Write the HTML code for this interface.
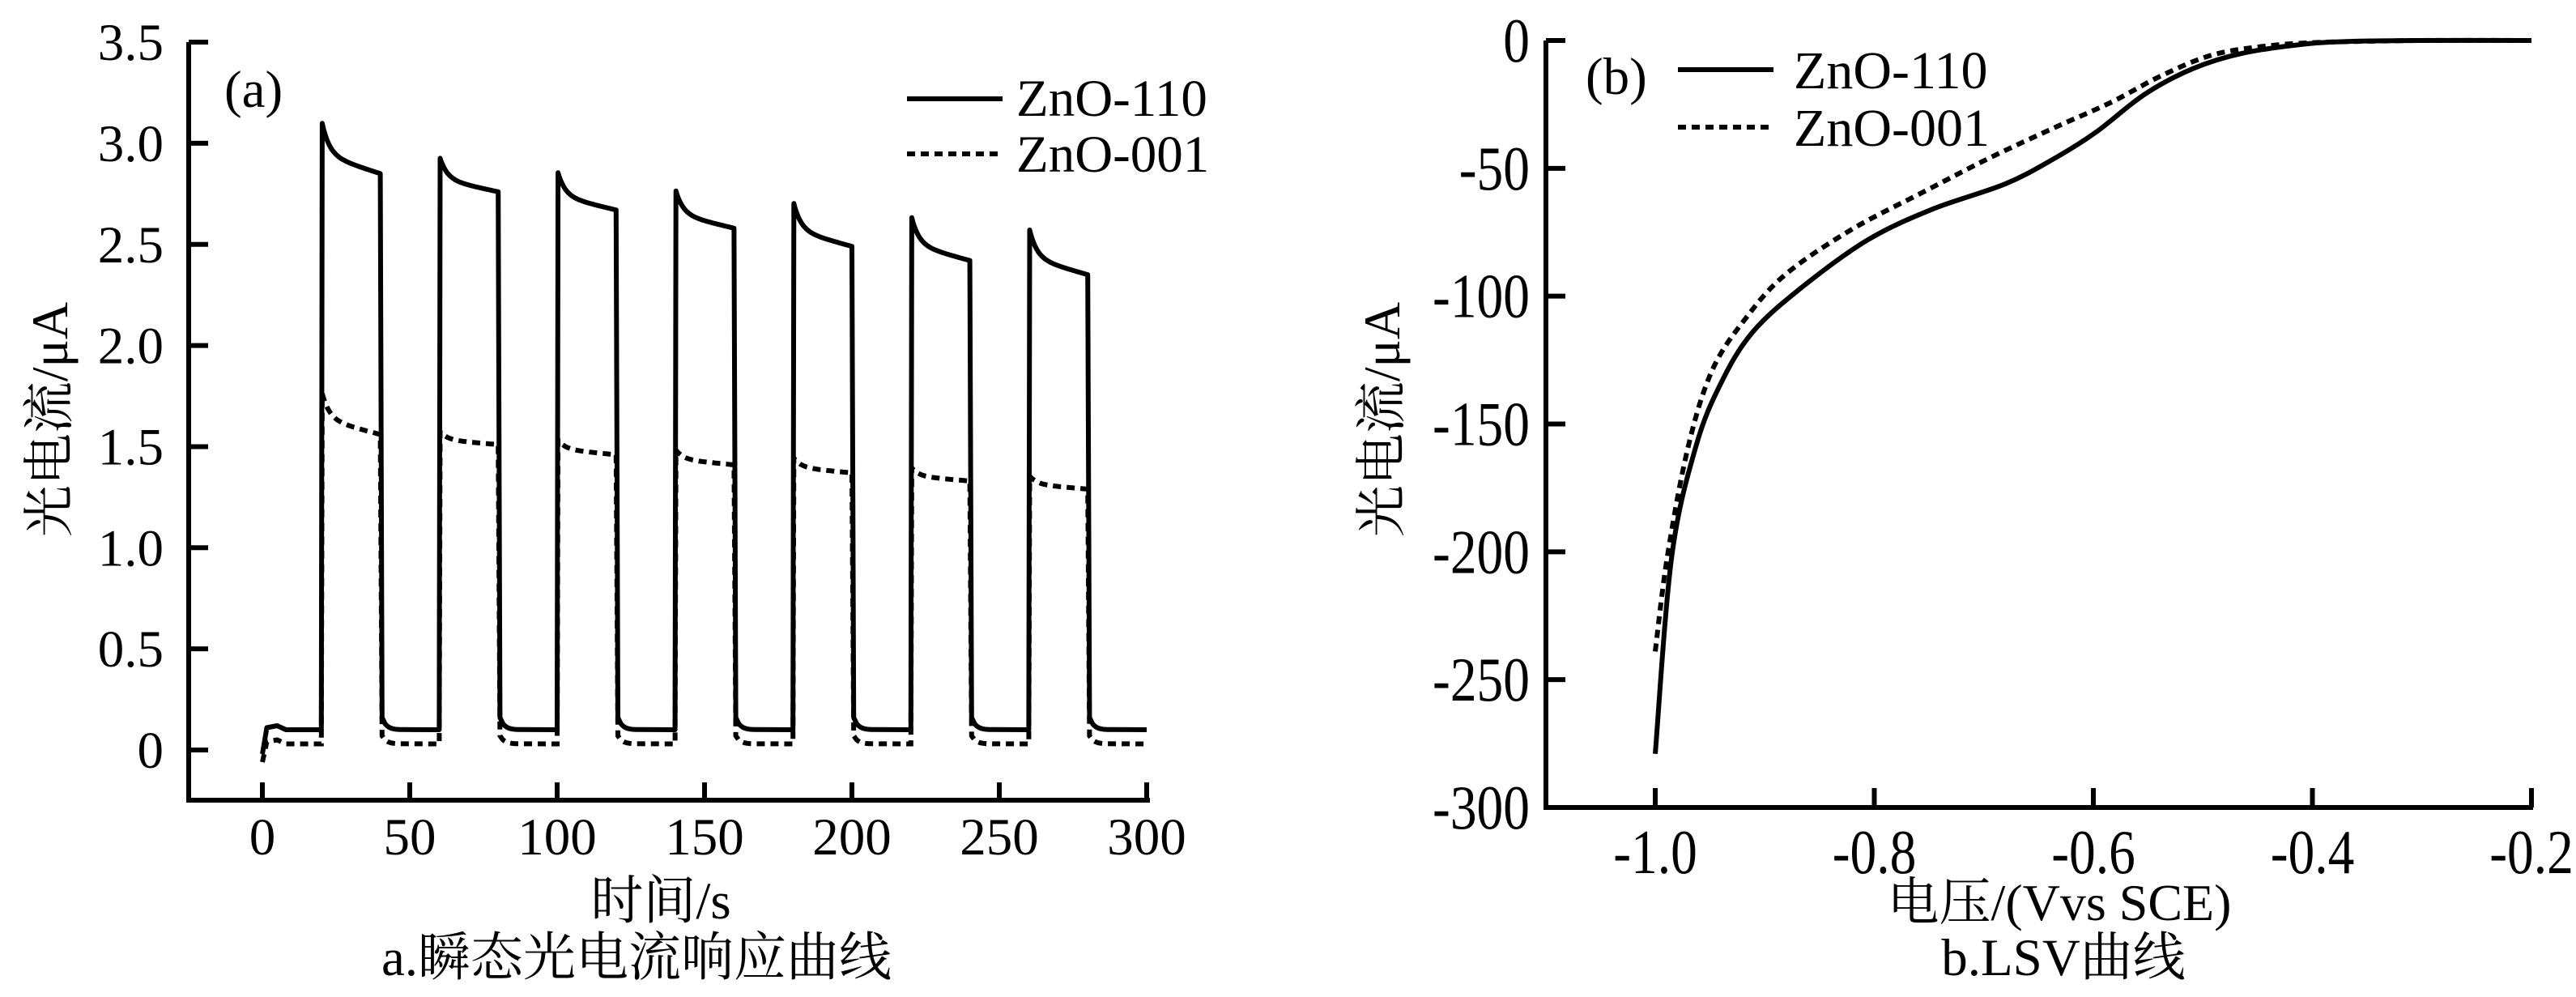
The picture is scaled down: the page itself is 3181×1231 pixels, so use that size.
<!DOCTYPE html>
<html><head><meta charset="utf-8"><style>
html,body{margin:0;padding:0;background:#fff;}
svg{display:block;}
text{font-family:"Liberation Serif","Noto Serif CJK SC","Noto Sans CJK SC",serif;fill:#000;}
</style></head><body>
<svg id="chart" width="3181" height="1231" viewBox="0 0 3181 1231" xmlns="http://www.w3.org/2000/svg">
<g id="pa"></g>
<g id="pb"></g>
</svg>
<script>
// Panel a data
const onTimesA = [20, 60, 100, 140, 180, 220, 260];
const peak110 = [3.12, 2.94, 2.87, 2.78, 2.72, 2.65, 2.59];
const end110 = [2.85, 2.76, 2.67, 2.58, 2.49, 2.42, 2.35];
const peak001 = [1.78, 1.58, 1.54, 1.49, 1.45, 1.40, 1.36];
const end001 = [1.56, 1.51, 1.46, 1.41, 1.37, 1.33, 1.29];
const base110 = 0.10;
const base001 = 0.03;
const xTicksA = [0, 50, 100, 150, 200, 250, 300];
const yTicksA = [0, 0.5, 1.0, 1.5, 2.0, 2.5, 3.0, 3.5];
const yTickLabelsA = ["0", "0.5", "1.0", "1.5", "2.0", "2.5", "3.0", "3.5"];
// Panel b data
const v110 = [-1.0, -0.985, -0.963, -0.94, -0.911, -0.866, -0.806, -0.747, -0.68, -0.635, -0.598, -0.553, -0.509, -0.464, -0.405, -0.36, -0.3, -0.2];
const i110 = [-279, -202, -159, -134, -114, -96.5, -78, -66, -56, -46, -36, -21, -11, -5, -1.3, -0.3, 0, 0];
const v001 = [-1.0, -0.989, -0.97, -0.948, -0.918, -0.881, -0.821, -0.754, -0.695, -0.635, -0.583, -0.539, -0.494, -0.449, -0.397, -0.3, -0.2];
const i001 = [-239, -202, -159, -129, -109, -91.5, -74, -59, -46, -34, -24, -14, -6, -2.5, -0.8, 0, 0];
const xTicksB = [-1.0, -0.8, -0.6, -0.4, -0.2];
const xTickLabelsB = ["-1.0", "-0.8", "-0.6", "-0.4", "-0.2"];
const yTicksB = [0, -50, -100, -150, -200, -250, -300];

const NS = "http://www.w3.org/2000/svg";
function mk(parent, tag, attrs, txt) {
  const e = document.createElementNS(NS, tag);
  for (const k in attrs) e.setAttribute(k, attrs[k]);
  if (txt !== undefined) e.textContent = txt;
  parent.appendChild(e);
  return e;
}
const pa = document.getElementById('pa');
const pb = document.getElementById('pb');
const SW = 6;

// ---------- Panel a ----------
const axA = {x0: 233, x1: 1420, yb: 988};
const xA = t => 324 + (t - 0) * (1416 - 324) / 300;
const yA = v => 926 - v * 249.7;
let e;
e = mk(pa, 'path', {d: `M${axA.x0} ${yA(3.5)} V${axA.yb} H${axA.x1}`, fill: 'none', stroke: '#000', 'stroke-width': SW, 'stroke-linejoin': 'miter'});


yTicksA.forEach((v, i) => {
  const t = mk(pa, 'line', {x1: axA.x0, x2: axA.x0 + 24, y1: yA(v), y2: yA(v), stroke: '#000', 'stroke-width': SW});
  
  
  const l = mk(pa, 'text', {x: 202, y: yA(v) + 22, 'text-anchor': 'end', 'font-size': 65}, yTickLabelsA[i]);
  
  
});
xTicksA.forEach(v => {
  const t = mk(pa, 'line', {x1: xA(v), x2: xA(v), y1: axA.yb, y2: axA.yb - 22, stroke: '#000', 'stroke-width': SW});
  
  
  const l = mk(pa, 'text', {x: xA(v), y: 1055, 'text-anchor': 'middle', 'font-size': 65}, String(v));
  
  
});
function seriesA(peaks, ends, base, start, overshoot) {
  const pts = [[0, start], [1.5, base + 0.01], [5, base + 0.02], [8, base], [onTimesA[0] - 0.2, base]];
  onTimesA.forEach((on, i) => {
    pts.push([on, base]);
    for (let dt = 0.3; dt <= 20; dt += 0.4) {
      const f = 0.65 * Math.exp(-dt / 2.5) + 0.35 * (1 - dt / 20);
      pts.push([on + dt, ends[i] + (peaks[i] - ends[i]) * f]);
    }
    pts.push([on + 20, ends[i]]);
    pts.push([on + 20.6, base + overshoot]);
    for (let dt = 1; dt <= 6; dt += 0.5) pts.push([on + 20.6 + dt, base + overshoot * Math.exp(-dt / 1.5)]);
    const next = i + 1 < onTimesA.length ? onTimesA[i + 1] : 300;
    pts.push([next, base]);
  });
  return pts.map((p, k) => (k ? 'L' : 'M') + xA(p[0]).toFixed(1) + ' ' + yA(p[1]).toFixed(1)).join(' ');
}
e = mk(pa, 'path', {d: seriesA(peak110, end110, base110, -0.02, 0.06), fill: 'none', stroke: '#000', 'stroke-width': SW, 'stroke-linejoin': 'round'});


e = mk(pa, 'path', {d: seriesA(peak001, end001, base001, -0.06, 0.04), fill: 'none', stroke: '#000', 'stroke-width': SW, 'stroke-dasharray': '10 7'});


e = mk(pa, 'text', {x: 277, y: 132, 'font-size': 65}, '(a)');


e = mk(pa, 'line', {x1: 1120, x2: 1238, y1: 122, y2: 122, stroke: '#000', 'stroke-width': SW});


e = mk(pa, 'line', {x1: 1120, x2: 1238, y1: 190, y2: 190, stroke: '#000', 'stroke-width': SW, 'stroke-dasharray': '10 7'});


e = mk(pa, 'text', {x: 1255, y: 143, 'font-size': 65}, 'ZnO-110');


e = mk(pa, 'text', {x: 1255, y: 212, 'font-size': 65}, 'ZnO-001');


e = mk(pa, 'text', {x: 0, y: 0, 'font-size': 64, 'text-anchor': 'middle', transform: 'translate(83 518) rotate(-90)'}, '光电流/μA');


e = mk(pa, 'text', {x: 816, y: 1134, 'font-size': 65, 'text-anchor': 'middle'}, '时间/s');


e = mk(pa, 'text', {x: 786, y: 1204, 'font-size': 65, 'text-anchor': 'middle'}, 'a.瞬态光电流响应曲线');



// ---------- Panel b ----------
const axB = {x0: 1909, x1: 3128, yt: 50, yb: 997};
const xB = v => 2044 + (v + 1.0) * (3126 - 2044) / 0.8;
const yB = v => 50 + (-v) * (997 - 50) / 300;
e = mk(pb, 'path', {d: `M${axB.x0} ${axB.yt} V${axB.yb} H${axB.x1}`, fill: 'none', stroke: '#000', 'stroke-width': SW});


yTicksB.forEach(v => {
  const t = mk(pb, 'line', {x1: axB.x0, x2: axB.x0 + 24, y1: yB(v), y2: yB(v), stroke: '#000', 'stroke-width': SW});
  
  
  const l = mk(pb, 'text', {x: 0, y: 0, 'text-anchor': 'end', 'font-size': 77, transform: `translate(1889 ${yB(v) + 26}) scale(0.85 1)`}, String(v));
  
  
});
xTicksB.forEach((v, i) => {
  const t = mk(pb, 'line', {x1: xB(v), x2: xB(v), y1: axB.yb, y2: axB.yb - 24, stroke: '#000', 'stroke-width': SW});
  
  
  const l = mk(pb, 'text', {x: 0, y: 0, 'text-anchor': 'middle', 'font-size': 77, transform: `translate(${xB(v)} 1078) scale(0.85 1)`}, xTickLabelsB[i]);
  
  
});
function smooth(xs, ys) {
  const P = xs.map((x, i) => [xB(x), yB(ys[i])]);
  let d = `M${P[0][0].toFixed(1)} ${P[0][1].toFixed(1)}`;
  for (let i = 0; i < P.length - 1; i++) {
    const p0 = P[i - 1] || P[i], p1 = P[i], p2 = P[i + 1], p3 = P[i + 2] || P[i + 1];
    const c1 = [p1[0] + (p2[0] - p0[0]) / 6, p1[1] + (p2[1] - p0[1]) / 6];
    const c2 = [p2[0] - (p3[0] - p1[0]) / 6, p2[1] - (p3[1] - p1[1]) / 6];
    d += ` C${c1[0].toFixed(1)} ${c1[1].toFixed(1)} ${c2[0].toFixed(1)} ${c2[1].toFixed(1)} ${p2[0].toFixed(1)} ${p2[1].toFixed(1)}`;
  }
  return d;
}
e = mk(pb, 'path', {d: smooth(v110, i110), fill: 'none', stroke: '#000', 'stroke-width': SW});


e = mk(pb, 'path', {d: smooth(v001, i001), fill: 'none', stroke: '#000', 'stroke-width': SW, 'stroke-dasharray': '10 7'});


e = mk(pb, 'text', {x: 1958, y: 116, 'font-size': 65}, '(b)');


e = mk(pb, 'line', {x1: 2072, x2: 2190, y1: 86, y2: 86, stroke: '#000', 'stroke-width': SW});


e = mk(pb, 'line', {x1: 2072, x2: 2190, y1: 157, y2: 157, stroke: '#000', 'stroke-width': SW, 'stroke-dasharray': '10 7'});


e = mk(pb, 'text', {x: 2215, y: 109, 'font-size': 66}, 'ZnO-110');


e = mk(pb, 'text', {x: 2215, y: 180, 'font-size': 66}, 'ZnO-001');


e = mk(pb, 'text', {x: 0, y: 0, 'font-size': 64, 'text-anchor': 'middle', transform: 'translate(1728 518) rotate(-90)'}, '光电流/μA');


e = mk(pb, 'text', {x: 2543, y: 1136, 'font-size': 64, 'text-anchor': 'middle'}, '电压/(Vvs SCE)');


e = mk(pb, 'text', {x: 2548, y: 1204, 'font-size': 65, 'text-anchor': 'middle'}, 'b.LSV曲线');


</script>
</body></html>
